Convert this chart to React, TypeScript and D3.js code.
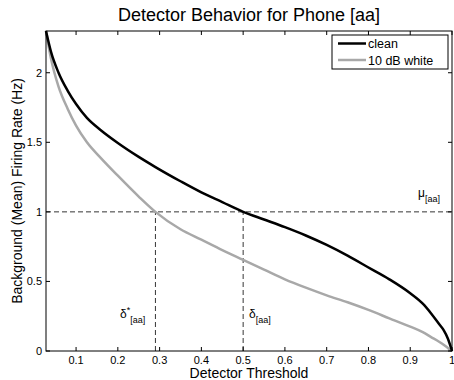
import React from 'react'
import * as d3 from 'd3'

const thresholds = [0.028, 0.04, 0.058, 0.08, 0.1, 0.126, 0.16, 0.2, 0.25, 0.29, 0.35, 0.4, 0.45, 0.5, 0.55, 0.6, 0.65, 0.7, 0.75, 0.8, 0.85, 0.9, 0.93, 0.95, 0.97, 0.98, 0.99, 1.0]
const cleanRate = [2.3, 2.15, 2.0, 1.87, 1.775, 1.675, 1.585, 1.495, 1.395, 1.322, 1.22, 1.14, 1.07, 1.0, 0.945, 0.89, 0.83, 0.762, 0.685, 0.6, 0.515, 0.415, 0.34, 0.27, 0.19, 0.15, 0.09, 0]
const noisyRate = [2.3, 2.1, 1.9, 1.74, 1.62, 1.5, 1.385, 1.26, 1.11, 1.0, 0.875, 0.8, 0.725, 0.655, 0.585, 0.515, 0.455, 0.4, 0.35, 0.295, 0.235, 0.175, 0.135, 0.1, 0.065, 0.045, 0.022, 0]
const xTicks = [0.1, 0.2, 0.3, 0.4, 0.5, 0.6, 0.7, 0.8, 0.9, 1]
const yTicks = [0, 0.5, 1, 1.5, 2]
const mu = 1
const deltaStar = 0.29
const delta = 0.5

const W = 454, H = 380
const m = { left: 46, right: 2, top: 31, bottom: 29 }
const font = 'Liberation Sans, Arial, sans-serif'

export default function App() {
  const x = d3.scaleLinear().domain([0.028, 1]).range([m.left, W - m.right])
  const y = d3.scaleLinear().domain([0, 2.3]).range([H - m.bottom, m.top])
  const line = d3.line<number>().x((_, i) => x(thresholds[i])).y(d => y(d)).curve(d3.curveMonotoneX)
  const x0 = m.left, x1 = W - m.right, y0 = H - m.bottom, y1 = m.top
  const tl = 4

  return (
    <svg width={W} height={H} style={{ position: 'absolute', left: 0, top: 0, background: '#fff' }} fontFamily={font}>
      <text x={(x0 + x1) / 2} y={21} textAnchor="middle" fontSize={18}>Detector Behavior for Phone [aa]</text>

      {/* dashed reference lines */}
      <g stroke="#000" strokeWidth={0.8} strokeDasharray="5,3" fill="none">
        <line x1={x0} x2={x1} y1={y(mu)} y2={y(mu)} />
        <line x1={x(deltaStar)} x2={x(deltaStar)} y1={y(0)} y2={y(mu)} />
        <line x1={x(delta)} x2={x(delta)} y1={y(0)} y2={y(mu)} />
      </g>

      <path d={line(noisyRate) || ''} fill="none" stroke="#a8a8a8" strokeWidth={2.5} />
      <path d={line(cleanRate) || ''} fill="none" stroke="#000" strokeWidth={2.5} />

      {/* annotations */}
      <text x={418} y={197} fontSize={12}>μ<tspan dy={5} fontSize={9}>[aa]</tspan></text>
      <text x={120} y={318} fontSize={12}>δ<tspan dy={-5} fontSize={9}>*</tspan><tspan dy={10} fontSize={9}>[aa]</tspan></text>
      <text x={249} y={318} fontSize={12}>δ<tspan dy={5} fontSize={9}>[aa]</tspan></text>

      {/* axes box and ticks */}
      <rect x={x0} y={y1} width={x1 - x0} height={y0 - y1} fill="none" stroke="#000" strokeWidth={1} />
      <g stroke="#000" strokeWidth={1}>
        {xTicks.map(t => (
          <g key={'x' + t}>
            <line x1={x(t)} x2={x(t)} y1={y0} y2={y0 - tl} />
            <line x1={x(t)} x2={x(t)} y1={y1} y2={y1 + tl} />
          </g>
        ))}
        {yTicks.map(t => (
          <g key={'y' + t}>
            <line x1={x0} x2={x0 + tl} y1={y(t)} y2={y(t)} />
            <line x1={x1} x2={x1 - tl} y1={y(t)} y2={y(t)} />
          </g>
        ))}
      </g>
      <g fontSize={11} textAnchor="middle">
        {xTicks.map(t => (
          <text key={'xl' + t} x={x(t)} y={y0 + 13}>{String(t)}</text>
        ))}
      </g>
      <g fontSize={11} textAnchor="end">
        {yTicks.map(t => (
          <text key={'yl' + t} x={x0 - 4} y={y(t) + 4}>{String(t)}</text>
        ))}
      </g>
      <text x={(x0 + x1) / 2} y={378} textAnchor="middle" fontSize={14}>Detector Threshold</text>
      <text transform={`translate(22,${(y0 + y1) / 2}) rotate(-90)`} textAnchor="middle" fontSize={14}>Background (Mean) Firing Rate (Hz)</text>

      {/* legend */}
      <g>
        <rect x={332} y={35} width={116} height={34} fill="#fff" stroke="#000" strokeWidth={1} />
        <line x1={338} x2={366} y1={43.5} y2={43.5} stroke="#000" strokeWidth={2.5} />
        <text x={368} y={48} fontSize={12.5}>clean</text>
        <line x1={338} x2={366} y1={60} y2={60} stroke="#a8a8a8" strokeWidth={2.5} />
        <text x={368} y={64.5} fontSize={12.5}>10 dB white</text>
      </g>
    </svg>
  )
}
